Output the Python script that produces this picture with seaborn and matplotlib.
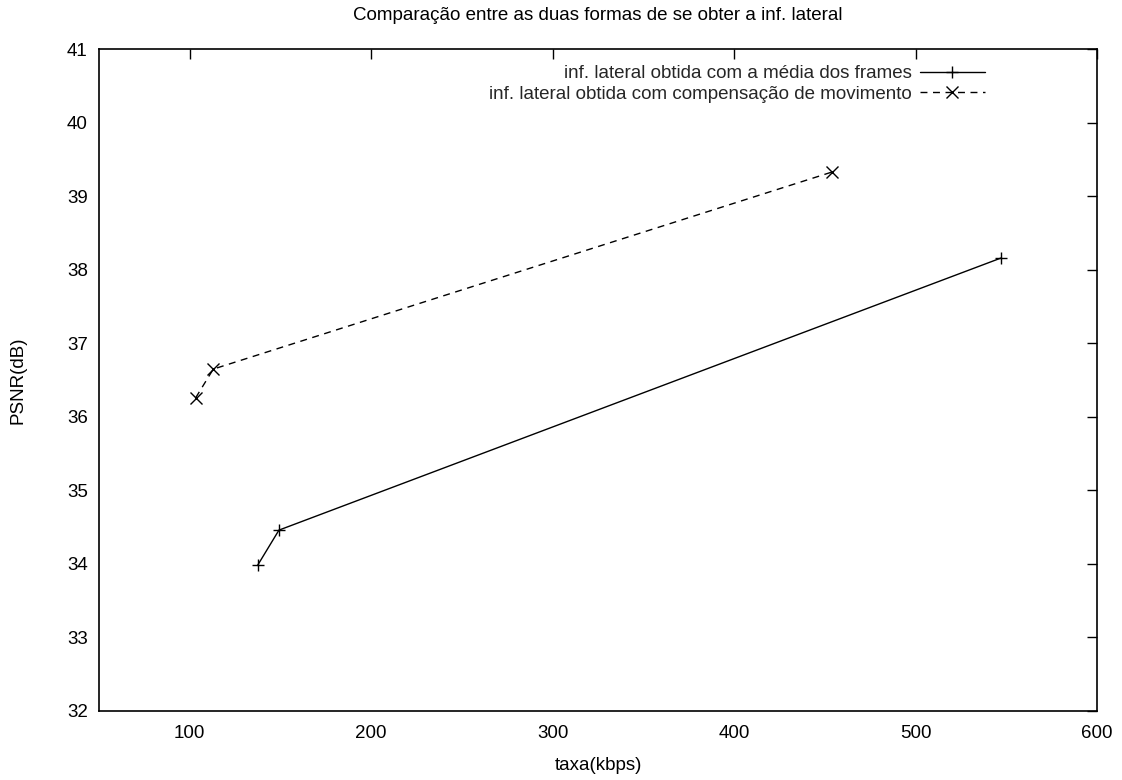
import matplotlib
matplotlib.use("Agg")
import matplotlib.pyplot as plt
import seaborn as sns
import pandas as pd

sns.set_theme(style="white")
plt.rcParams['font.family'] = ['Liberation Sans', 'DejaVu Sans']

# Data
rate_media = [137.4, 149.2, 547.0]
psnr_media = [33.98, 34.46, 38.16]
rate_comp = [103.3, 113.0, 453.9]
psnr_comp = [36.26, 36.65, 39.33]

label_media = "inf. lateral obtida com a média dos frames"
label_comp = "inf. lateral obtida com compensação de movimento"
title = "Comparação entre as duas formas de se obter a inf. lateral"
xlabel = "taxa(kbps)"
ylabel = "PSNR(dB)"
xticks = [100, 200, 300, 400, 500, 600]
yticks = [32, 33, 34, 35, 36, 37, 38, 39, 40, 41]

FS = 13.5

fig = plt.figure(figsize=(11.22, 7.8), dpi=100)
ax = fig.add_axes([0.0882, 0.0885, 0.9777 - 0.0882, 0.9368 - 0.0885])

df_m = pd.DataFrame({"x": rate_media, "y": psnr_media})
df_c = pd.DataFrame({"x": rate_comp, "y": psnr_comp})

sns.lineplot(data=df_m, x="x", y="y", ax=ax, sort=False, color="black",
             linewidth=1.0, marker="+", markersize=8, markeredgewidth=1.0,
             markeredgecolor="black", label=label_media)
sns.lineplot(data=df_c, x="x", y="y", ax=ax, sort=False, color="black",
             linewidth=1.0, linestyle=(0, (5, 4)), marker="x", markersize=8,
             markeredgewidth=1.0, markeredgecolor="black", label=label_comp)

ax.set_xlim(50, 600)
ax.set_ylim(32, 41)
ax.set_xticks(xticks)
ax.set_yticks(yticks)
ax.tick_params(direction="in", length=7, width=1, top=True, right=True,
               labelsize=FS, colors="black", pad=8)
ax.tick_params(axis="x", pad=10)
for s in ax.spines.values():
    s.set_color("black")
    s.set_linewidth(1.2)

ax.set_xlabel(xlabel, fontsize=FS, color="black", labelpad=11)
ax.set_ylabel(ylabel, fontsize=FS, color="black", labelpad=29)
ax.set_title(title, fontsize=FS, color="black", pad=21)

leg = ax.legend(loc="upper right", bbox_to_anchor=(0.888, 0.976),
                frameon=False, markerfirst=False, borderpad=0,
                borderaxespad=0, fontsize=FS, handlelength=3.5,
                handletextpad=0.4, labelspacing=0.18)
for t in leg.get_texts():
    t.set_ha("right")
    t.set_position((0, 0))
leg._legend_box.align = "right"

fig.savefig("out.png", dpi=100)
